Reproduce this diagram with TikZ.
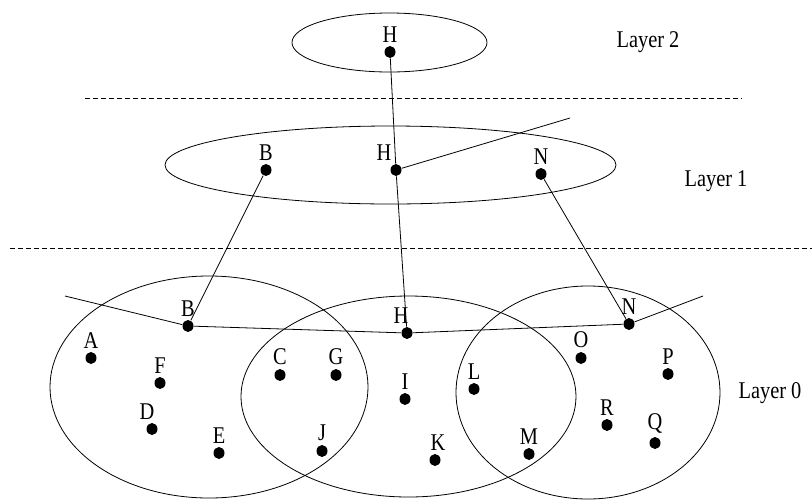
\documentclass[tikz,border=0pt]{standalone}
\usepackage{fontspec}
\setmainfont{Liberation Serif}[FakeStretch=0.85]
\usepackage{tikz}
\usetikzlibrary{positioning,shapes.geometric}

\begin{document}
\begin{tikzpicture}[x=1pt,y=-1pt,line width=0.8pt,
	every node/.style={font=\fontsize{24}{28}\selectfont},
	dot/.style={ellipse,fill,inner sep=0pt,minimum width=11pt,minimum height=12pt},
	lbl/.style={inner sep=0pt,label distance=3pt},
	layer/.style={inner sep=0pt},
	sep/.style={dashed,dash pattern=on 5pt off 3pt,line width=0.6pt}]
	\useasboundingbox (0,0) rectangle (812,499);
	% layers
	\draw (389.5,42.5) ellipse [x radius=97.5, y radius=29.5];
	\draw (390.5,165) ellipse [x radius=225.5, y radius=39];
	\draw (209,387) ellipse [x radius=159, y radius=111];
	\draw (408.5,396.5) ellipse [x radius=167.5, y radius=100.5];
	\draw (588,392.5) ellipse [x radius=132, y radius=106.5];
	\draw[sep] (85,98) -- (742,98);
	\draw[sep] (10,248) -- (812,248);
	\node [layer] at (648,42) (l2) {Layer 2};
	\node [layer] at (716,181) (l1) {Layer 1};
	\node [layer] at (770,393) (l0) {Layer 0};

	% layer 2
	\node [dot,label={[lbl]above:H}] at (390,52) (h2) {};
	% layer 1
	\node [dot,label={[lbl]above:B}] at (266,170) (b1) {};
	\node [dot,label={[lbl,xshift=-12pt]above:H}] at (396,170) (h1) {};
	\node [dot,label={[lbl]above:N}] at (541,174) (n1) {};
	\coordinate (e1) at (570,118);
	% layer 0
	\node [dot,label={[lbl]above:A}] at (91,358) (a) {};
	\node [dot,label={[lbl]above:B}] at (188,326) (b) {};
	\node [dot,label={[lbl]above:C}] at (280,375) (c) {};
	\node [dot,label={[lbl,xshift=-5pt]above:D}] at (152,429) (d) {};
	\node [dot,label={[lbl]above:E}] at (219,453) (e) {};
	\node [dot,label={[lbl]above:F}] at (160,383) (f) {};
	\node [dot,label={[lbl]above:G}] at (336,375) (g) {};
	\node [dot,label={[lbl,xshift=-6pt]above:H}] at (407,333) (h) {};
	\node [dot,label={[lbl]above:I}] at (405,399) (i) {};
	\node [dot,label={[lbl]above:J}] at (322,451) (j) {};
	\node [dot,label={[lbl,xshift=3pt]above:K}] at (435,460) (k) {};
	\node [dot,label={[lbl]above:L}] at (474,389) (l) {};
	\node [dot,label={[lbl]above:M}] at (529,454) (m) {};
	\node [dot,label={[lbl]above:N}] at (629,324) (n) {};
	\node [dot,label={[lbl]above:O}] at (581,358) (o) {};
	\node [dot,label={[lbl]above:P}] at (668,374) (p) {};
	\node [dot,label={[lbl]above:Q}] at (655,443) (q) {};
	\node [dot,label={[lbl]above:R}] at (607,425) (r) {};
	\coordinate (w0) at (65,296);
	\coordinate (e0) at (703,296);

	\draw (h2) -- (h1);
	\draw (h1) -- (e1);
	\draw (b1) -- (b);
	\draw (h1) -- (h);
	\draw (n1) -- (n);
	\draw (w0) -- (b) -- (h) -- (n) -- (e0);
\end{tikzpicture}
\end{document}
